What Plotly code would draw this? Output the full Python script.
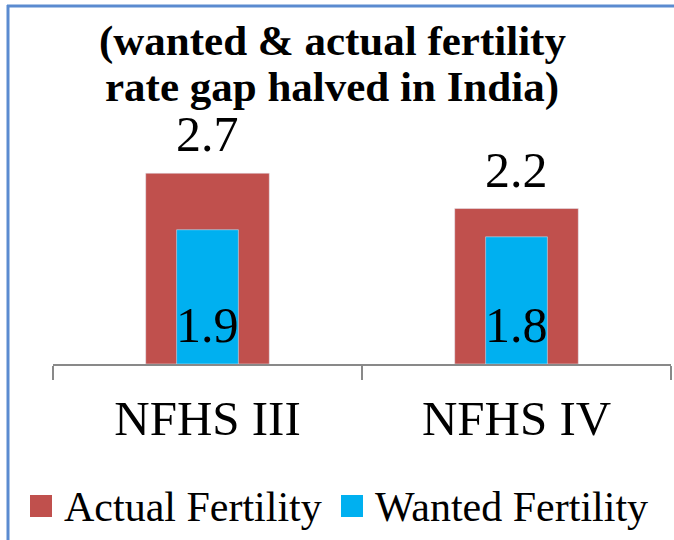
import plotly.graph_objects as go

categories = ["NFHS III", "NFHS IV"]
actual = [2.7, 2.2]
wanted = [1.9, 1.8]
series_names = ["Actual Fertility", "Wanted Fertility"]
title_lines = ["(wanted &amp; actual fertility", "rate gap halved in India)"]

RED = "#C0504D"
BLUE = "#00B0F0"
FONT = "Liberation Serif"

W, H = 674, 540
ML, MR, MT, MB = 53, 3, 152, 176
PW = W - ML - MR
PH = H - MT - MB


def px(x):
    return (x - ML) / PW


def py(y):
    return (H - MB - y) / PH


fig = go.Figure()
fig.add_trace(go.Bar(x=categories, y=actual, name=series_names[0], marker_color=RED,
                     width=0.4, showlegend=False))
fig.add_trace(go.Bar(x=categories, y=wanted, name=series_names[1], marker_color=BLUE,
                     width=0.2, showlegend=False))

ann = []
for c, v in zip(categories, actual):
    ann.append(dict(x=c, y=v, xref="x", yref="y", text=f"{v:.1f}", showarrow=False,
                    yanchor="bottom", yshift=9, font=dict(family=FONT, size=50, color="black")))
for c, v in zip(categories, wanted):
    ann.append(dict(x=c, y=0, xref="x", yref="y", text=f"{v:.1f}", showarrow=False,
                    yanchor="bottom", yshift=9, font=dict(family=FONT, size=50, color="black")))
# title lines
for i, t in enumerate(title_lines):
    ann.append(dict(x=px(332), y=py(41 + 46 * i), xref="paper", yref="paper", text=f"<b>{t}</b>",
                    showarrow=False, xanchor="center", yanchor="middle",
                    font=dict(family=FONT, size=43, color="black")))
# legend
shapes = []
leg = [(30, 62, RED, series_names[0]), (341, 373, BLUE, series_names[1])]
for sx, tx, col, name in leg:
    shapes.append(dict(type="rect", xref="paper", yref="paper", x0=px(sx), x1=px(sx + 22),
                       y0=py(517), y1=py(495), fillcolor=col, line=dict(width=0)))
    ann.append(dict(x=px(tx), y=py(507), xref="paper", yref="paper", text=name, showarrow=False,
                    xanchor="left", yanchor="middle", font=dict(family=FONT, size=42, color="black")))
# outer border (left and top)
shapes.append(dict(type="line", xref="paper", yref="paper", x0=px(8), x1=px(8), y0=py(5), y1=py(545),
                   line=dict(color="#5B8BD0", width=3)))
shapes.append(dict(type="line", xref="paper", yref="paper", x0=px(7), x1=px(674), y0=py(6), y1=py(6),
                   line=dict(color="#5B8BD0", width=3)))

fig.update_layout(
    width=W, height=H,
    margin=dict(l=ML, r=MR, t=MT, b=MB),
    barmode="overlay",
    font=dict(family=FONT, color="black"),
    plot_bgcolor="white", paper_bgcolor="white",
    showlegend=False,
    annotations=ann, shapes=shapes,
    xaxis=dict(range=[-0.5, 1.5], showline=True, linecolor="#898989", linewidth=2,
               ticks="outside", tickson="boundaries", ticklen=14, tickwidth=2, tickcolor="#898989",
               tickfont=dict(family=FONT, size=49, color="black"), showgrid=False,
               ticklabelstandoff=10),
    yaxis=dict(range=[0, 3], visible=False, showgrid=False, zeroline=False),
)

fig.write_html("out.html", config={"displayModeBar": False})
with open("out.html", encoding="utf-8") as f:
    html = f.read()
html = html.replace("<body>", "<body style=\"margin:0;overflow:hidden\">", 1)
with open("out.html", "w", encoding="utf-8") as f:
    f.write(html)
